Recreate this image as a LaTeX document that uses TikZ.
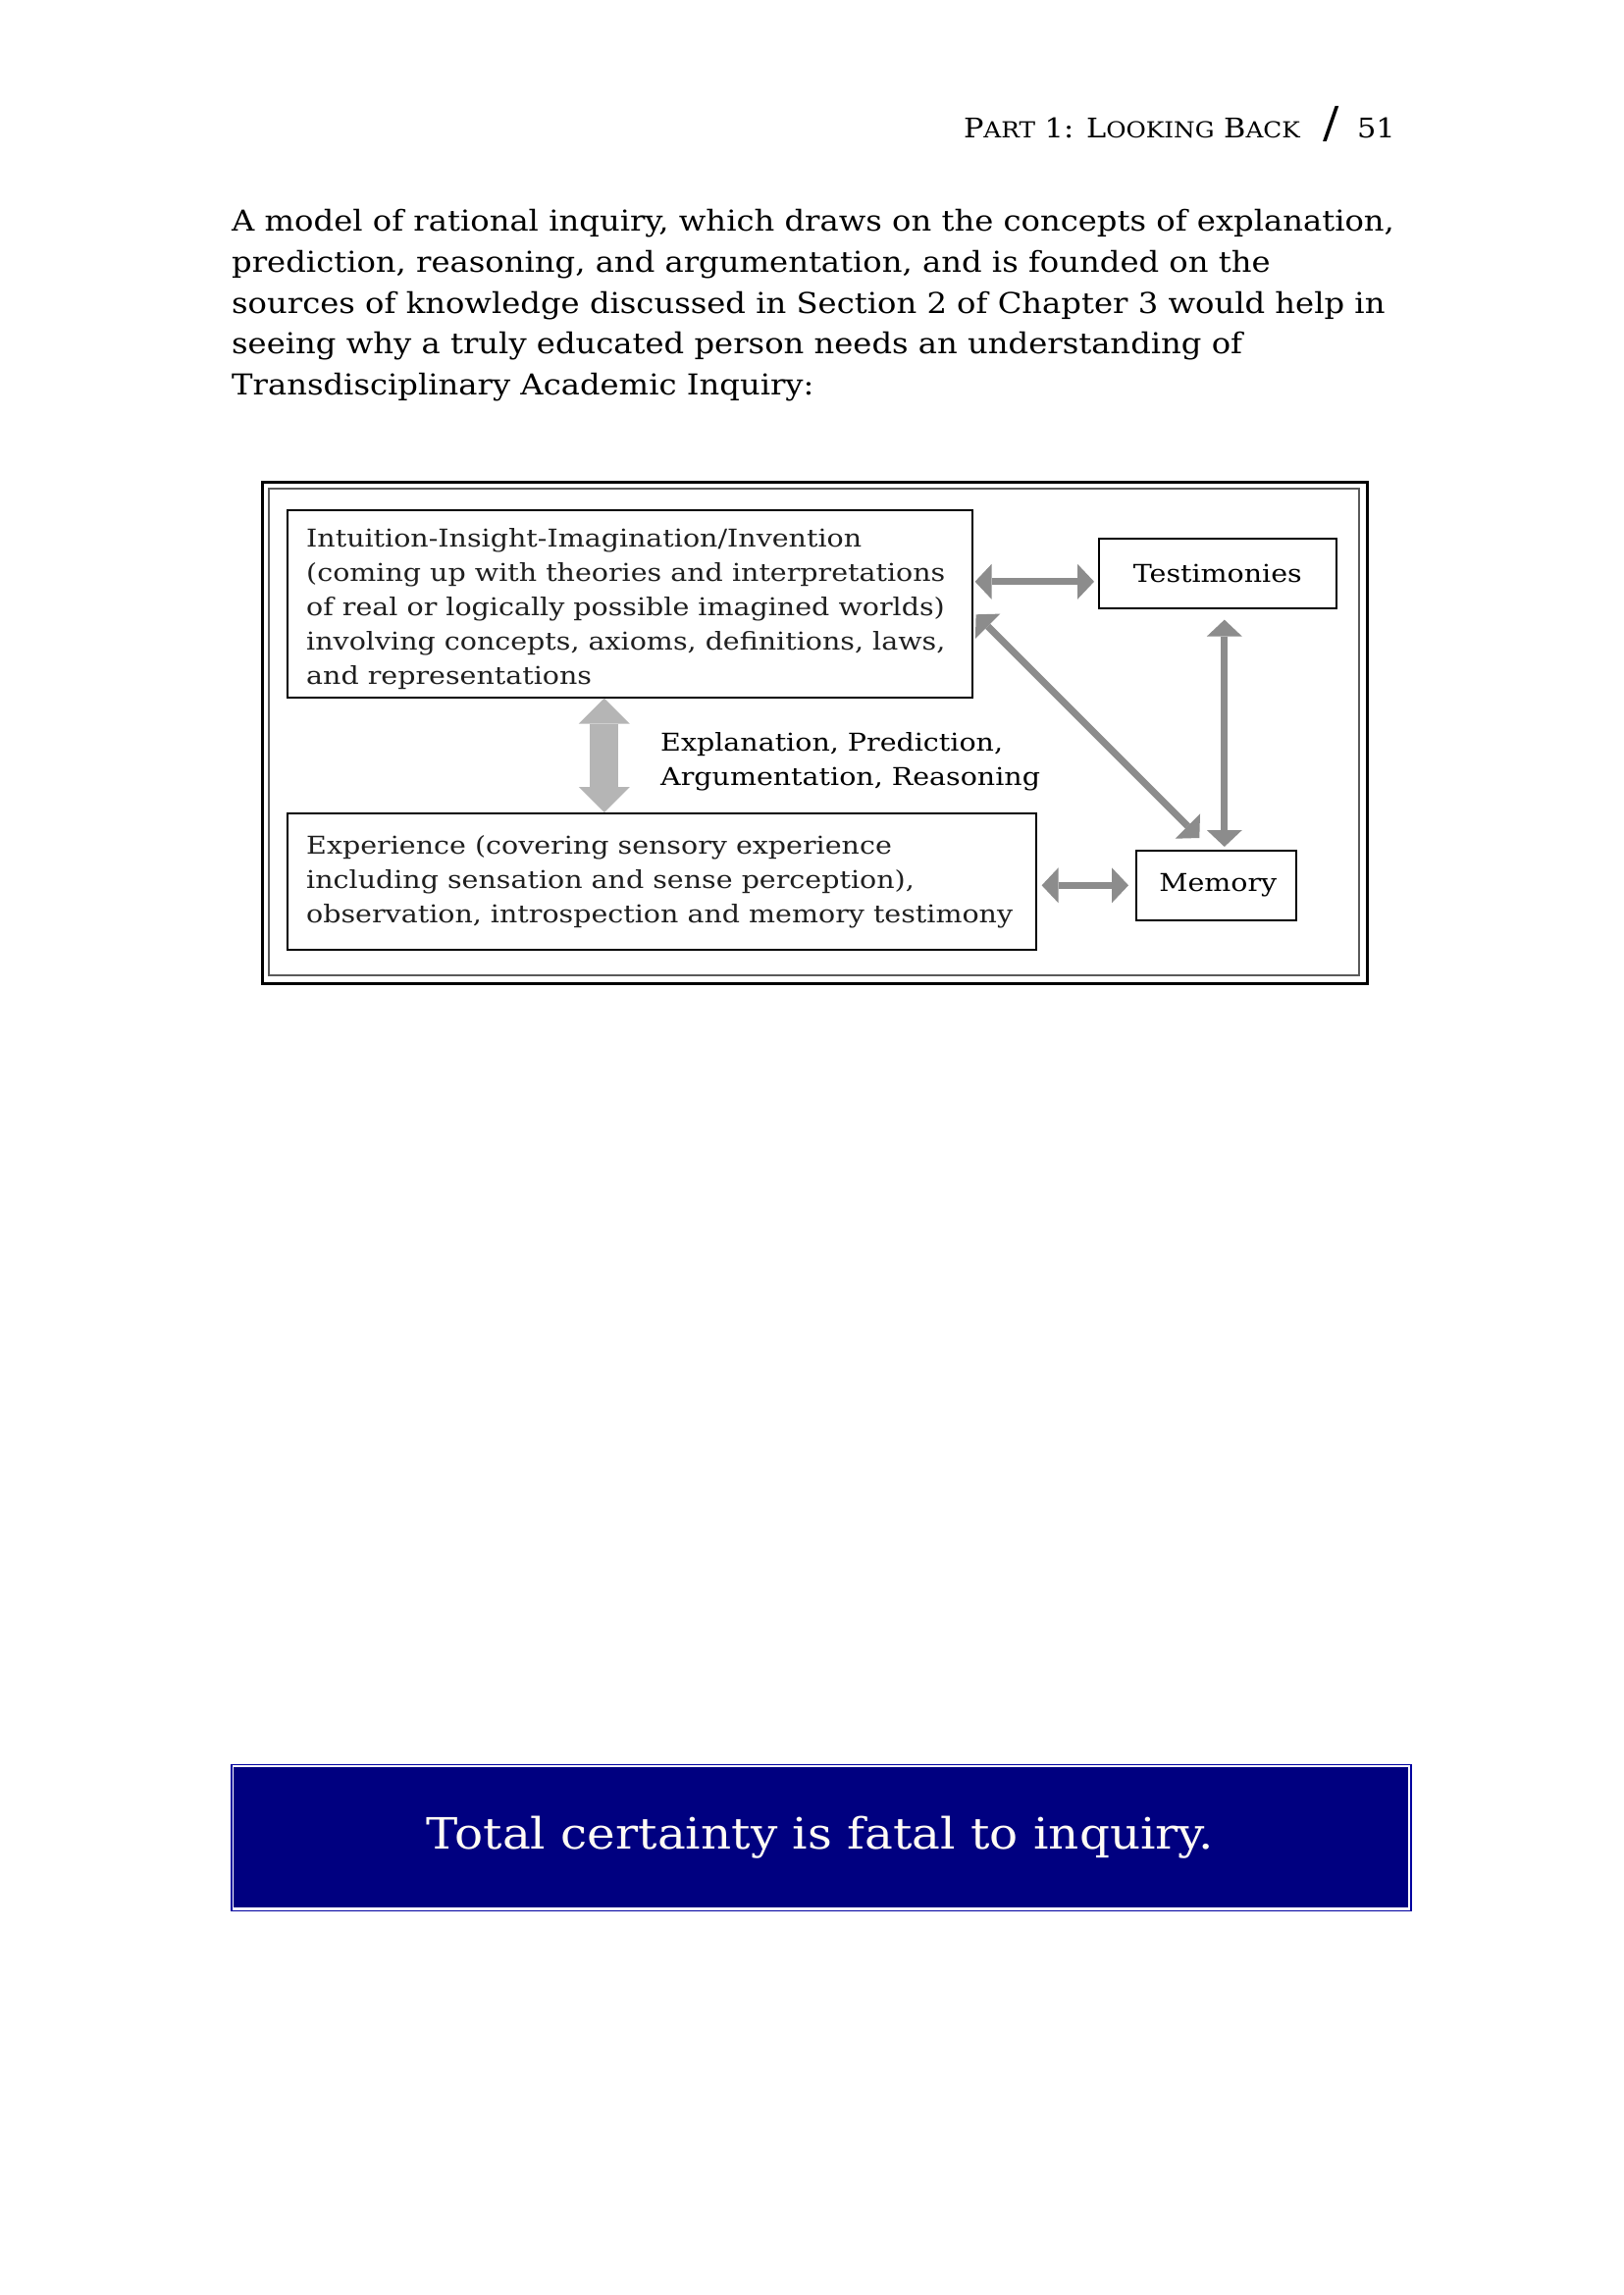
\documentclass[tikz,border=0pt]{standalone}
\usepackage{fontspec}
\setmainfont{DejaVu Serif}[FakeStretch=1.1]
\newfontfamily\boxfont{DejaVu Serif}[FakeStretch=1.14]
\usetikzlibrary{arrows.meta}
\definecolor{arrgray}{HTML}{8C8C8C}
\definecolor{blockgray}{HTML}{B5B5B5}
\definecolor{navybg}{HTML}{000080}
\definecolor{navyline}{HTML}{0000A0}
\definecolor{framegray}{HTML}{5A5A5A}
\definecolor{cream}{HTML}{FFFBF5}
\newcommand\hdrsc{\fontsize{22.5}{24}\selectfont}
\begin{document}
\begin{tikzpicture}[x=1pt,y=-1pt,
  body/.style={anchor=base west, inner sep=0pt, align=left, font=\fontsize{29.3}{41.8}\selectfont},
  box/.style={draw=black, line width=1.6pt, inner sep=0pt, anchor=north west},
  boxtext/.style={anchor=base west, inner sep=0pt, align=left, text=black!88, font=\boxfont\fontsize{25}{35}\selectfont},
  conn/.style={draw=arrgray, line width=7pt,
    {Triangle[width=36pt,length=17pt,line width=0pt]}-{Triangle[width=36pt,length=17pt,line width=0pt]}},
  blockarrow/.style={draw=blockgray, line width=29pt,
    {Triangle[width=52pt,length=26pt,line width=0pt]}-{Triangle[width=52pt,length=26pt,line width=0pt]}}
]
\useasboundingbox (0,0) rectangle (1654,2339);
\fill[white] (0,0) rectangle (1654,2339);

% header
\node[anchor=base east, inner sep=0pt, font=\fontsize{27.6}{30}\selectfont] (hdr) at (1325,141)
  {P{\hdrsc ART} 1: L{\hdrsc OOKING} B{\hdrsc ACK}};
\node[anchor=base, inner sep=0pt, font=\fontsize{44}{46}\selectfont] (slash) at (1357,141) {/};
\node[anchor=base east, inner sep=0pt, font=\fontsize{27.6}{30}\selectfont] (pg) at (1422,141) {51};

% body
\node[body] (para) at (236,402.7) {A model of rational inquiry, which draws on the concepts of explanation,\\
prediction, reasoning, and argumentation, and is founded on the\\
sources of knowledge discussed in Section 2 of Chapter 3 would help in\\
seeing why a truly educated person needs an understanding of\\
Transdisciplinary Academic Inquiry:};

% frames
\node[draw=black, line width=2.5pt, inner sep=0pt, anchor=north west, minimum width=1126pt, minimum height=511pt] (outerframe) at (266,490) {};
\node[draw=framegray, line width=2pt, inner sep=0pt, anchor=north west, minimum width=1111pt, minimum height=496pt] (innerframe) at (273,497) {};

% boxes
\node[box, minimum width=698pt, minimum height=191pt] (intu) at (292,519) {};
\node[boxtext] (intutext) at (312,697) {Intuition-Insight-Imagination/Invention\\
(coming up with theories and interpretations\\
of real or logically possible imagined worlds)\\
involving concepts, axioms, definitions, laws,\\
and representations};

\node[box, minimum width=242pt, minimum height=71pt, font=\boxfont\fontsize{25}{30}\selectfont] (test) at (1119,548) {Testimonies};
\node[box, minimum width=163pt, minimum height=71pt, font=\boxfont\fontsize{25}{30}\selectfont] (mem) at (1157,866) {\hspace*{4pt}Memory};

\node[box, minimum width=763pt, minimum height=139pt] (exp) at (292,828) {};
\node[boxtext] (exptext) at (312,940) {Experience (covering sensory experience\\
including sensation and sense perception),\\
observation, introspection and memory testimony};

\node[boxtext, text=black, font=\boxfont\fontsize{25}{34.5}\selectfont] (lbl) at (673,800) {Explanation, Prediction,\\
Argumentation, Reasoning};

% connectors
\draw[blockarrow] ([xshift=-26pt]intu.south) -- ([xshift=-26pt]intu.south |- exp.north);
\draw[conn] ([xshift=2pt,yshift=-8.5pt]test.west -| intu.east) -- ([xshift=-4pt,yshift=-8.5pt]test.west);
\draw[conn] ([xshift=3pt,yshift=-11pt]intu.east) -- ([xshift=-17pt,yshift=12pt]mem.north);
\draw[conn] ([xshift=7pt,yshift=-11pt]test.south) -- ([xshift=8.5pt,yshift=3pt]mem.north);
\draw[conn] ([xshift=5pt]exp.east |- mem.west) -- ([xshift=-7pt]mem.west);

% banner
\node[draw=navyline, line width=1.5pt, inner sep=0pt, anchor=north west, minimum width=1202pt, minimum height=149pt] (bannerframe) at (235,1797.5) {};
\node[fill=navybg, inner sep=0pt, anchor=north west, minimum width=1197pt, minimum height=143pt] (banner) at (238,1801) {};
\node[text=cream, inner sep=0pt, anchor=base, font=\fontsize{44}{48}\selectfont] (quote) at (836,1884.5) {Total certainty is fatal to inquiry.};
\end{tikzpicture}
\end{document}
